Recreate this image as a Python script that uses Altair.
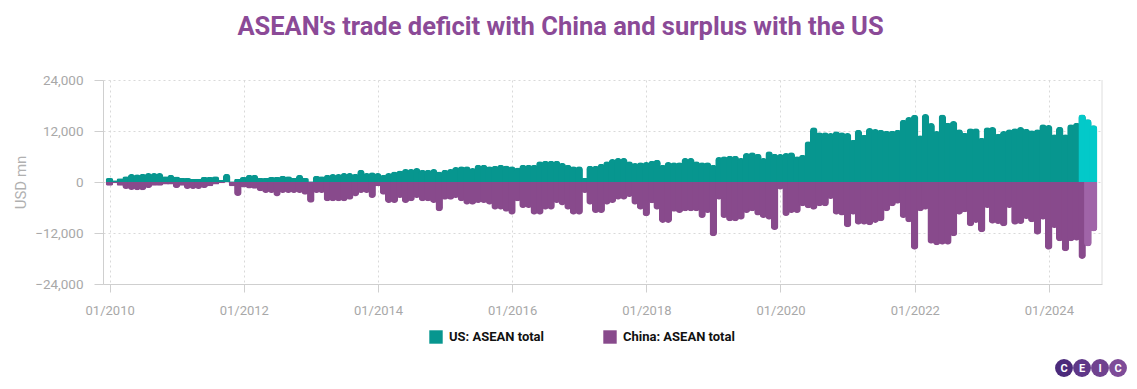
import altair as alt
import pandas as pd

# ---------------- data (USD mn, monthly, Dec 2009 .. Aug 2024, month-end) ----------------
US_NAME = "US: ASEAN total"
CN_NAME = "China: ASEAN total"

us_values = [
    940, 400, 900, 1330, 1900, 1800, 1960, 2100, 2100, 2100, 1330, 1720,
    1300, 940, 940, 700, 750, 1180, 1180, 1330, 550, 1960, 200, 700,
    1180, 1720, 1720, 940, 940, 1180, 1180, 1500, 1330, 940, 1720, 940,
    160, 1500, 1330, 1720, 1880, 1880, 2120, 2120, 1950, 2900, 2120, 2270,
    2100, 1720, 2100, 2500, 2700, 3060, 3060, 3290, 2900, 2900, 3060, 2500,
    2900, 3060, 3530, 3680, 3680, 3290, 4080, 4080, 3680, 3840, 4080, 3900,
    3680, 3400, 4080, 4080, 4080, 4860, 5020, 5020, 5020, 4500, 4080, 3680,
    3680, 940, 3840, 3840, 4300, 4860, 5410, 5650, 5650, 4860, 4470, 4630,
    4700, 5000, 5250, 4080, 4700, 4630, 4630, 5650, 5650, 4900, 4630, 4630,
    4080, 5880, 6040, 6200, 6200, 5650, 6820, 6980, 6660, 5650, 7210, 6660,
    6600, 6820, 6980, 6040, 6400, 9560, 12860, 11680, 11680, 11520, 11920, 11680,
    11520, 9960, 12310, 11130, 12700, 12470, 12310, 12070, 12070, 12310, 14660, 15290,
    15840, 11000, 15990, 13880, 12000, 15900, 13950, 14350, 12390, 11600, 12620, 12620,
    10430, 12900, 12940, 11370, 12000, 12390, 12620, 12940, 12540, 12150, 12390, 13560,
    13400, 11210, 13010, 11210, 13560, 13950, 15900, 14740, 13330,
]

china_values = [
    -860, -300, -900, -1650, -1900, -1960, -1960, -1400, -860, -860, -600, -600,
    -1400, -860, -1650, -1650, -1650, -1400, -1020, -600, -300, -100, -1020, -3300,
    -1300, -1500, -1600, -2200, -2600, -2600, -3400, -2600, -2600, -2600, -2600, -3000,
    -4900, -2600, -2600, -4550, -4550, -4550, -4550, -4200, -3400, -2600, -2600, -3760,
    -1000, -3000, -4940, -4940, -3760, -4940, -4550, -3760, -4550, -4550, -4940, -6900,
    -4200, -4200, -3760, -4550, -5330, -5330, -4940, -4940, -5330, -6500, -6500, -7000,
    -7680, -4550, -6120, -6120, -7680, -7680, -6500, -6500, -4940, -5500, -6500, -7680,
    -7680, -2590, -5330, -7290, -7290, -5330, -4940, -4150, -4150, -3530, -5330, -6500,
    -8080, -5000, -6500, -9640, -9640, -7000, -7290, -6900, -6900, -6900, -8470, -7290,
    -12780, -4150, -8470, -9250, -9250, -8870, -7290, -6900, -7900, -8470, -8870, -11300,
    -1800, -8000, -7290, -7290, -5720, -6200, -6500, -5720, -5720, -4000, -7680, -7900,
    -10660, -7680, -10040, -10040, -10200, -9640, -9250, -6900, -5720, -5100, -8470, -9490,
    -15920, -6900, -6500, -14500, -14900, -14740, -14740, -12780, -7680, -7140, -10430, -9640,
    -11840, -6120, -9800, -9880, -10430, -6120, -10040, -9880, -8700, -9490, -12390, -8860,
    -15920, -10820, -13950, -16310, -13950, -13800, -18110, -15130, -11600,
]

month_ends = (pd.date_range("2010-01-01", periods=len(us_values), freq="MS")
              - pd.Timedelta(days=1)).strftime("%Y-%m-%d")

tick_years = [2010, 2012, 2014, 2016, 2018, 2020, 2022, 2024]
y_ticks = [-24000, -12000, 0, 12000, 24000]

LOGO_KEYS = ["c1", "e", "i", "c2"]
LOGO_LETTERS = ["C", "E", "I", "C"]

# ---------------- styles ----------------
TEAL = "#07968f"
PURPLE = "#884a8c"
CYAN = "#03c9c9"
LIGHT_PURPLE = "#a064a8"
LOGO_COLORS = ["#4b2a7b", "#5f3788", "#70428f", "#7e4b98"]
FONT = "Roboto"
GRID = "#d9d9d9"
AXC = "#cfcfcf"
LBL = "#a8a8a8"

df_us = pd.DataFrame({"date": month_ends, "value": us_values, "series": US_NAME})
df_cn = pd.DataFrame({"date": month_ends, "value": china_values, "series": CN_NAME})
df_us_hi = df_us.iloc[174:]
df_cn_hi = df_cn.iloc[175:]

xscale = alt.Scale(domain=[alt.DateTime(year=2009, month=12, date=23),
                           alt.DateTime(year=2024, month=9, date=19)], nice=False)
yscale = alt.Scale(domain=[-24000, 24000], nice=False, zero=False)

x_axis = alt.Axis(values=[alt.DateTime(year=y, month=1, date=1) for y in tick_years],
                  format="%m/%Y", title=None, grid=True, gridDash=[2, 3],
                  gridColor=GRID, tickSize=8, tickColor=AXC,
                  domainColor=AXC, labelColor=LBL, labelFontSize=13,
                  labelFont=FONT, labelPadding=12)
y_axis = alt.Axis(values=y_ticks, labelExpr="format(datum.value, ',')", title="USD mn",
                  grid=True, gridDash=[2, 3],
                  gridColor=GRID, tickSize=9, tickColor=AXC,
                  domainColor=AXC, labelColor=LBL, labelFontSize=13.5,
                  labelFont=FONT, labelPadding=11, titleFont=FONT, titleFontSize=15,
                  titleFontWeight="normal", titleColor="#b0b0b0", titlePadding=6)

x_main = alt.X("date:T", scale=xscale, axis=x_axis)
x_none = alt.X("date:T", scale=xscale, axis=None)
y_main = alt.Y("value:Q", scale=yscale, axis=y_axis)

color_enc = alt.Color(
    "series:N",
    scale=alt.Scale(domain=[US_NAME, CN_NAME], range=[TEAL, PURPLE]),
    legend=alt.Legend(orient="none", legendX=326, legendY=250, direction="horizontal",
                      title=None, symbolType="square", symbolSize=180,
                      labelFont=FONT, labelFontSize=13, labelFontWeight="bold",
                      labelColor="#111111", columnPadding=58, labelOffset=6,
                      padding=0, symbolStrokeWidth=0),
)

BW = 7.5
RAD = 3.6

us_bars = alt.Chart(df_us).mark_bar(
    width=BW, cornerRadiusTopLeft=RAD, cornerRadiusTopRight=RAD
).encode(x=x_main, y=y_main, color=color_enc)

cn_bars = alt.Chart(df_cn).mark_bar(
    width=BW, cornerRadiusBottomLeft=RAD, cornerRadiusBottomRight=RAD
).encode(x=x_none, y=y_main, color=color_enc)

cn_hi = alt.Chart(df_cn_hi).mark_bar(
    width=BW, cornerRadiusBottomLeft=RAD, cornerRadiusBottomRight=RAD, color=LIGHT_PURPLE
).encode(x=x_none, y=y_main)

us_hi = alt.Chart(df_us_hi).mark_bar(
    width=BW, cornerRadiusTopLeft=RAD, cornerRadiusTopRight=RAD, color=CYAN
).encode(x=x_none, y=y_main)

# right-hand frame line: a rule with only an x position spans the full plot height
border = alt.Chart(pd.DataFrame({"k": [0]})).mark_rule(color="#dedede", strokeWidth=1).encode(
    x=alt.X(datum=alt.DateTime(year=2024, month=9, date=19), type="temporal",
            scale=xscale, axis=None),
)

logo_df = pd.DataFrame({"key": LOGO_KEYS, "letter": LOGO_LETTERS})
logo_x = alt.X("key:N", sort=LOGO_KEYS,
               scale=alt.Scale(domain=LOGO_KEYS, range=[961, 1015], padding=0), axis=None)
logo_circ = alt.Chart(logo_df).mark_circle(size=320, opacity=1).encode(
    x=logo_x, y=alt.value(288),
    fill=alt.Fill("key:N", scale=alt.Scale(domain=LOGO_KEYS, range=LOGO_COLORS), legend=None),
)
logo_text = alt.Chart(logo_df).mark_text(
    color="white", font=FONT, fontSize=11, fontWeight="bold", baseline="middle"
).encode(x=logo_x, y=alt.value(288.5), text="letter:N")

chart = (
    alt.layer(us_bars, cn_bars, cn_hi, us_hi, border, logo_circ, logo_text)
    .resolve_scale(x="independent")
    .properties(
        width=999, height=204,
        title=alt.TitleParams(
            text="ASEAN's trade deficit with China and surplus with the US",
            fontSize=25.5, fontWeight="bold", color="#8b4a97", font=FONT,
            anchor="middle", dx=-42, offset=33),
        padding={"left": 95, "top": 72, "right": 27, "bottom": 97},
        autosize=alt.AutoSizeParams(type="none"),
    )
    .configure_view(stroke=None)
)

chart.save("out.html", embed_options={"renderer": "svg", "actions": False})
